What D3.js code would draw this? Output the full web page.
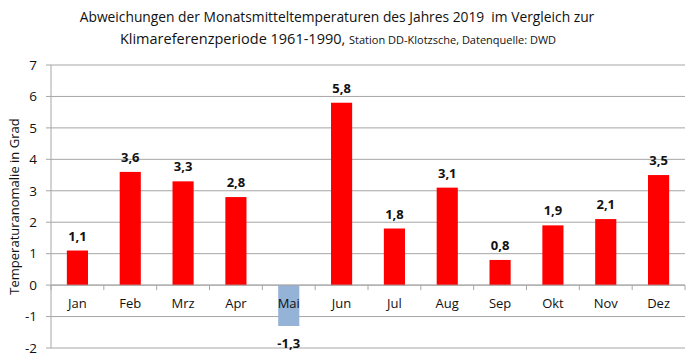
<!DOCTYPE html>
<html>
<head>
<meta charset="utf-8">
<script src="https://cdn.jsdelivr.net/npm/d3@7"></script>
<style>
  body { margin: 0; background: #fff; }
  text { font-family: "Open Sans", sans-serif; fill: #111; }
</style>
</head>
<body>
<div id="wrapper"></div>
<script>
// monthly anomalies 2019 vs 1961-1990, DD-Klotzsche
const months = ["Jan", "Feb", "Mrz", "Apr", "Mai", "Jun", "Jul", "Aug", "Sep", "Okt", "Nov", "Dez"]
const anomalies = [1.1, 3.6, 3.3, 2.8, -1.3, 5.8, 1.8, 3.1, 0.8, 1.9, 2.1, 3.5]
const yTicks = [-2, -1, 0, 1, 2, 3, 4, 5, 6, 7]

function drawPlot() {
    let dimensions = {
        width: 700,
        height: 362,
        margin: { top: 65, right: 15, bottom: 14, left: 51 },
    }
    dimensions.boundedWidth = dimensions.width - dimensions.margin.left - dimensions.margin.right
    dimensions.boundedHeight = dimensions.height - dimensions.margin.top - dimensions.margin.bottom

    const svg = d3.select('#wrapper')
        .append('svg')
        .attr('width', dimensions.width)
        .attr('height', dimensions.height)

    //! title
    svg.append('text')
        .attr('x', 337)
        .attr('y', 22)
        .attr('text-anchor', 'middle')
        .style('font-size', '13.8px')
        .text('Abweichungen der Monatsmitteltemperaturen des Jahres 2019\u00a0 im Vergleich zur')
    const sub = svg.append('text')
        .attr('x', 338)
        .attr('y', 44)
        .attr('text-anchor', 'middle')
        .style('font-size', '14.5px')
    sub.append('tspan').text('Klimareferenzperiode 1961-1990, ')
    sub.append('tspan').style('font-size', '11px').text('Station DD-Klotzsche, Datenquelle: DWD')

    const bounds = svg.append('g')
        .attr('transform', `translate(${dimensions.margin.left},${dimensions.margin.top})`)

    const xScale = d3.scaleBand()
        .domain(months)
        .range([0, dimensions.boundedWidth])
        .paddingInner(0.6)
        .paddingOuter(0.3)
    const bandStep = dimensions.boundedWidth / months.length

    const yScale = d3.scaleLinear()
        .domain([-2, 7])
        .range([dimensions.boundedHeight, 0])

    //* gridlines
    bounds.selectAll('.grid')
        .data(yTicks)
        .join('line')
        .attr('x1', -5)
        .attr('x2', dimensions.boundedWidth)
        .attr('y1', d => yScale(d))
        .attr('y2', d => yScale(d))
        .attr('stroke', '#a6a6a6')
        .attr('stroke-width', 1)

    // y axis line
    bounds.append('line')
        .attr('x1', 0).attr('x2', 0)
        .attr('y1', 0).attr('y2', dimensions.boundedHeight)
        .attr('stroke', '#a6a6a6')

    // y tick labels
    bounds.selectAll('.ylab')
        .data(yTicks)
        .join('text')
        .attr('x', -14)
        .attr('y', d => yScale(d))
        .attr('dy', '0.35em')
        .attr('text-anchor', 'end')
        .style('font-size', '13.5px')
        .text(d => d)

    // y axis title
    svg.append('text')
        .attr('transform', `translate(19,${dimensions.margin.top + yScale(2.5)}) rotate(-90)`)
        .attr('text-anchor', 'middle')
        .style('font-size', '13px')
        .text('Temperaturanomalie in Grad')

    //! bars
    bounds.selectAll('.bar')
        .data(anomalies)
        .join('rect')
        .attr('x', (d, i) => xScale(months[i]))
        .attr('width', xScale.bandwidth())
        .attr('y', d => yScale(Math.max(0, d)))
        .attr('height', d => Math.abs(yScale(d) - yScale(0)))
        .attr('fill', d => d < 0 ? '#95b3d7' : '#ff0000')

    // zero line with category ticks
    bounds.append('line')
        .attr('x1', 0).attr('x2', dimensions.boundedWidth)
        .attr('y1', yScale(0)).attr('y2', yScale(0))
        .attr('stroke', '#a6a6a6')
    bounds.selectAll('.xtick')
        .data(d3.range(months.length + 1))
        .join('line')
        .attr('x1', d => d * bandStep)
        .attr('x2', d => d * bandStep)
        .attr('y1', yScale(0))
        .attr('y2', yScale(0) + 5)
        .attr('stroke', '#a6a6a6')

    // category labels
    bounds.selectAll('.xlab')
        .data(months)
        .join('text')
        .attr('x', d => xScale(d) + xScale.bandwidth() / 2)
        .attr('y', yScale(0) + 23)
        .attr('text-anchor', 'middle')
        .style('font-size', '13px')
        .text(d => d)

    // value labels
    bounds.selectAll('.vlab')
        .data(anomalies)
        .join('text')
        .attr('x', (d, i) => xScale(months[i]) + xScale.bandwidth() / 2)
        .attr('y', d => d < 0 ? yScale(d) + 22 : yScale(d) - 10)
        .attr('text-anchor', 'middle')
        .style('font-size', '13px')
        .style('font-weight', 'bold')
        .text(d => d3.format('.1f')(d).replace('.', ',').replace('\u2212', '-'))
}

drawPlot()
</script>
</body>
</html>
